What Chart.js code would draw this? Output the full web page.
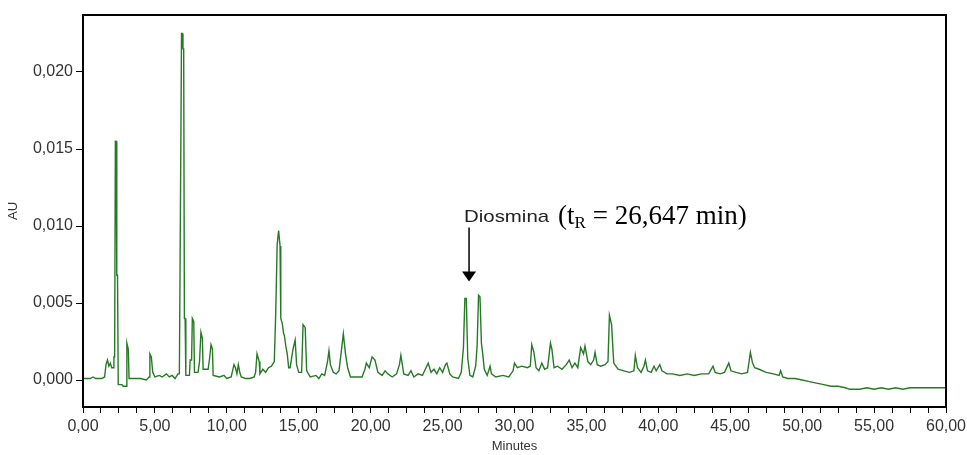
<!DOCTYPE html>
<html>
<head>
<meta charset="utf-8">
<script src="https://cdn.jsdelivr.net/npm/chart.js@4.4.0/dist/chart.umd.min.js"></script>
<style>
  html, body { margin: 0; padding: 0; background: #fff; }
  #wrap { width: 967px; height: 455px; }
</style>
</head>
<body>
<div id="wrap"><canvas id="chrom" width="967" height="455"></canvas></div>
<script>
// retention time (min) and absorbance (AU)
const minutes = [
  0.0, 0.5, 0.7, 0.9, 1.3, 1.5, 1.6, 1.7, 1.8, 1.9, 2.0, 2.1, 2.15, 2.2, 2.25, 2.3, 2.35, 2.4, 2.45, 2.7,
  2.8, 3.0, 3.05, 3.1, 3.15, 3.2, 4.0, 4.4, 4.6, 4.65, 4.75, 4.85, 5.0, 5.3, 5.5, 5.8, 6.0, 6.2, 6.4, 6.6,
  6.7, 6.75, 6.8, 6.85, 6.9, 6.95, 7.0, 7.05, 7.1, 7.15, 7.4, 7.45, 7.55, 7.6, 7.7, 7.75, 8.0, 8.1, 8.2, 8.3,
  8.35, 8.7, 8.8, 8.9, 9.0, 9.05, 9.5, 9.8, 10.0, 10.3, 10.5, 10.6, 10.7, 10.8, 10.9, 11.0, 11.3, 11.6, 11.9, 12.0,
  12.1, 12.25, 12.3, 12.5, 12.7, 12.9, 13.1, 13.3, 13.4, 13.5, 13.6, 13.7, 13.75, 13.85, 13.95, 14.0, 14.1, 14.2, 14.3, 14.4,
  14.6, 14.75, 14.85, 15.0, 15.2, 15.3, 15.45, 15.55, 15.8, 16.2, 16.4, 16.6, 16.8, 17.0, 17.1, 17.2, 17.4, 17.6, 17.8, 18.0,
  18.1, 18.25, 18.4, 18.6, 19.0, 19.4, 19.6, 19.7, 19.9, 20.1, 20.3, 20.5, 20.8, 21.0, 21.2, 21.5, 21.8, 22.0, 22.1, 22.3,
  22.6, 22.8, 23.0, 23.3, 23.6, 23.8, 24.0, 24.2, 24.4, 24.6, 24.8, 25.0, 25.2, 25.3, 25.5, 25.7, 26.1, 26.3, 26.45, 26.55,
  26.65, 26.75, 26.9, 27.1, 27.3, 27.4, 27.5, 27.6, 27.7, 27.8, 27.9, 28.1, 28.3, 28.4, 28.7, 29.2, 29.6, 29.9, 30.0, 30.2,
  30.5, 30.9, 31.1, 31.2, 31.35, 31.5, 31.7, 31.9, 32.1, 32.3, 32.5, 32.6, 32.75, 33.0, 33.3, 33.6, 33.8, 34.0, 34.2, 34.4,
  34.6, 34.8, 34.9, 35.1, 35.3, 35.5, 35.6, 35.75, 36.0, 36.3, 36.5, 36.6, 36.75, 36.9, 37.2, 37.6, 38.0, 38.3, 38.4, 38.55,
  38.8, 39.0, 39.1, 39.25, 39.5, 39.7, 39.85, 40.1, 40.25, 40.6, 41.0, 41.5, 42.0, 42.5, 43.0, 43.5, 43.8, 43.95, 44.3, 44.6,
  44.9, 45.05, 45.4, 45.8, 46.2, 46.4, 46.55, 46.7, 47.0, 47.5, 48.0, 48.4, 48.5, 48.65, 49.0, 49.5, 50.0, 50.5, 51.0, 51.5,
  52.0, 52.5, 53.0, 53.3, 54.0, 54.5, 55.0, 55.5, 56.0, 56.5, 57.0, 57.5, 58.0, 59.0, 60.0
];
const absorbance = [
  0.0001, 0.0001, 0.0002, 0.0001, 0.0001, 0.0002, 0.0010, 0.0013, 0.0009, 0.0011, 0.0008, 0.0008, 0.0015, 0.0015, 0.0155, 0.0155, 0.0068, 0.0068, -0.0003, -0.0003,
  -0.0004, -0.0004, 0.0024, 0.0022, 0.0020, 0.0001, 0.0001, 0.0000, 0.0002, 0.0017, 0.0015, 0.0005, 0.0002, 0.0003, 0.0002, 0.0004, 0.0002, 0.0003, 0.0001, 0.0004,
  0.0004, 0.0075, 0.0075, 0.0225, 0.0225, 0.0215, 0.0215, 0.0040, 0.0040, 0.0003, 0.0003, 0.0013, 0.0013, 0.0040, 0.0038, 0.0005, 0.0005, 0.0012, 0.0031, 0.0027,
  0.0007, 0.0007, 0.0014, 0.0023, 0.0020, 0.0003, 0.0002, 0.0003, 0.0001, 0.0002, 0.0010, 0.0008, 0.0004, 0.0010, 0.0005, 0.0002, 0.0001, 0.0001, 0.0002, 0.0005,
  0.0017, 0.0012, 0.0004, 0.0007, 0.0005, 0.0008, 0.0009, 0.0012, 0.0044, 0.0088, 0.0097, 0.0087, 0.0040, 0.0037, 0.0030, 0.0029, 0.0022, 0.0017, 0.0008, 0.0008,
  0.0020, 0.0026, 0.0010, 0.0005, 0.0005, 0.0036, 0.0034, 0.0006, 0.0002, 0.0003, 0.0001, 0.0004, 0.0003, 0.0012, 0.0019, 0.0010, 0.0005, 0.0004, 0.0006, 0.0022,
  0.0030, 0.0017, 0.0008, 0.0002, 0.0002, 0.0002, 0.0007, 0.0011, 0.0008, 0.0015, 0.0013, 0.0005, 0.0003, 0.0006, 0.0004, 0.0002, 0.0004, 0.0010, 0.0016, 0.0004,
  0.0003, 0.0006, 0.0002, 0.0004, 0.0003, 0.0007, 0.0011, 0.0005, 0.0007, 0.0004, 0.0008, 0.0005, 0.0010, 0.0011, 0.0004, 0.0002, 0.0001, 0.0005, 0.0021, 0.0053,
  0.0053, 0.0014, 0.0003, 0.0002, 0.0009, 0.0022, 0.0055, 0.0054, 0.0024, 0.0016, 0.0007, 0.0003, 0.0009, 0.0004, 0.0002, 0.0003, 0.0002, 0.0006, 0.0011, 0.0008,
  0.0009, 0.0008, 0.0009, 0.0023, 0.0018, 0.0008, 0.0006, 0.0011, 0.0007, 0.0008, 0.0024, 0.0020, 0.0008, 0.0009, 0.0007, 0.0010, 0.0013, 0.0008, 0.0011, 0.0008,
  0.0021, 0.0017, 0.0022, 0.0012, 0.0010, 0.0013, 0.0018, 0.0010, 0.0009, 0.0010, 0.0012, 0.0042, 0.0036, 0.0011, 0.0007, 0.0006, 0.0005, 0.0006, 0.0016, 0.0008,
  0.0005, 0.0009, 0.0013, 0.0006, 0.0005, 0.0009, 0.0006, 0.0010, 0.0006, 0.0004, 0.0004, 0.0003, 0.0004, 0.0003, 0.0004, 0.0004, 0.0009, 0.0005, 0.0004, 0.0005,
  0.0011, 0.0006, 0.0005, 0.0004, 0.0005, 0.0018, 0.0011, 0.0008, 0.0007, 0.0005, 0.0004, 0.0003, 0.0006, 0.0002, 0.0001, 0.0001, 0.0000, -0.0001, -0.0002, -0.0003,
  -0.0004, -0.0004, -0.0005, -0.0006, -0.0006, -0.0005, -0.0006, -0.0005, -0.0006, -0.0005, -0.0006, -0.0005, -0.0005, -0.0005, -0.0005
];

const xTickStep = 1.25;   // minor ticks, labels every 5 min
const yTickStep = 0.005;
const peakLabel = 'Diosmina';
const peakTime = 26.84;   // where the arrow points

const points = minutes.map((t, i) => ({ x: t, y: absorbance[i] }));

function comma(v, d) {
    return v.toFixed(d).replace('.', ',');
}

Chart.defaults.font.family = '"Liberation Sans", Arial, sans-serif';
Chart.defaults.color = '#333';

// black frame round the plot area
const framePlugin = {
    id: 'frame',
    afterDraw(chart) {
        const a = chart.chartArea;
        const ctx = chart.ctx;
        ctx.save();
        ctx.strokeStyle = '#000';
        ctx.lineWidth = 2;
        ctx.strokeRect(a.left, a.top, a.right - a.left, a.bottom - a.top);
        ctx.restore();
    }
};

// arrow + "Diosmina (tR = 26,647 min)"
const peakNote = {
    id: 'peakNote',
    afterDatasetsDraw(chart) {
        const ctx = chart.ctx;
        const x = chart.scales.x.getPixelForValue(peakTime);
        const yTop = chart.scales.y.getPixelForValue(0.0099);
        const yTip = chart.scales.y.getPixelForValue(0.0064);
        ctx.save();
        ctx.strokeStyle = '#000';
        ctx.fillStyle = '#000';
        ctx.lineWidth = 1.5;
        ctx.beginPath();
        ctx.moveTo(x, yTop);
        ctx.lineTo(x, yTip - 9);
        ctx.stroke();
        ctx.beginPath();
        ctx.moveTo(x - 7, yTip - 10);
        ctx.lineTo(x + 7, yTip - 10);
        ctx.lineTo(x, yTip);
        ctx.closePath();
        ctx.fill();

        const base = yTop - 6;
        let tx = x - 5;
        ctx.textBaseline = 'alphabetic';
        // the sans label is slightly stretched in the original
        ctx.save();
        ctx.translate(tx, base);
        ctx.scale(1.2, 1);
        ctx.font = '17px "Liberation Sans", Arial, sans-serif';
        ctx.fillStyle = '#222';
        ctx.fillText(peakLabel, 0, 0);
        tx += ctx.measureText(peakLabel).width * 1.2 + 9;
        ctx.restore();
        ctx.fillStyle = '#000';
        ctx.font = '27px "Liberation Serif", "Times New Roman", serif';
        ctx.fillText('(t', tx, base + 2);
        tx += ctx.measureText('(t').width;
        ctx.font = '17px "Liberation Serif", "Times New Roman", serif';
        ctx.fillText('R', tx, base + 6);
        tx += ctx.measureText('R').width;
        ctx.font = '27px "Liberation Serif", "Times New Roman", serif';
        ctx.fillText(' = 26,647 min)', tx, base + 2);
        ctx.restore();
    }
};

new Chart(document.getElementById('chrom'), {
    type: 'line',
    data: {
        datasets: [{
            data: points,
            borderColor: '#267a26',
            borderWidth: 1.4,
            pointRadius: 0,
            fill: false,
            tension: 0
        }]
    },
    options: {
        responsive: false,
        animation: false,
        parsing: false,
        layout: { padding: { left: 0, top: 15, right: 21, bottom: 0 } },
        plugins: {
            legend: { display: false },
            tooltip: { enabled: false }
        },
        scales: {
            x: {
                type: 'linear',
                min: 0,
                max: 60,
                afterFit(scale) {
                    scale.height = 48;
                    scale.paddingLeft = 0;
                    scale.paddingRight = 0;
                },
                grid: { drawOnChartArea: false, tickLength: 6, tickColor: '#000' },
                border: { color: '#000', width: 2 },
                ticks: {
                    stepSize: xTickStep,
                    autoSkip: false,
                    maxRotation: 0,
                    padding: 4,
                    font: { size: 16 },
                    callback: v => (v % 5 === 0 ? comma(v, 2) : '')
                },
                title: { display: true, text: 'Minutes', font: { size: 13 }, padding: 1 }
            },
            y: {
                min: -0.00175,
                max: 0.0237,
                afterFit(scale) { scale.width = 83; },
                grid: { drawOnChartArea: false, tickLength: 7, tickColor: '#000' },
                border: { color: '#000', width: 2 },
                ticks: {
                    stepSize: yTickStep,
                    includeBounds: false,
                    padding: 3,
                    font: { size: 16 },
                    callback: v => comma(v, 3)
                },
                title: { display: true, text: 'AU', font: { size: 13 }, padding: 6 }
            }
        }
    },
    plugins: [framePlugin, peakNote]
});
</script>
</body>
</html>
